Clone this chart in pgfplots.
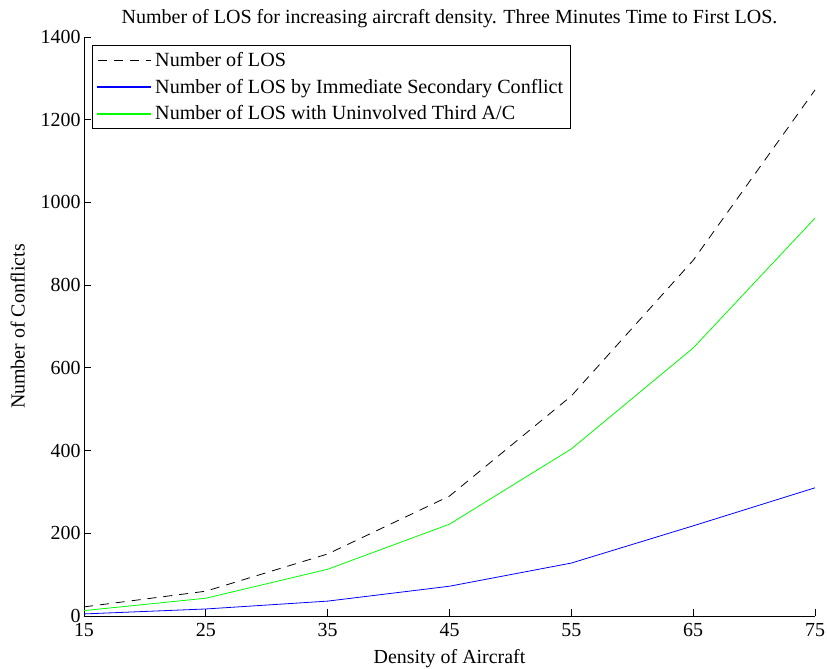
\documentclass[border=0pt]{standalone}
\usepackage{pgfplots}
\pgfplotsset{compat=1.18}
\usepackage{fontspec}
\setmainfont{Liberation Serif}
\definecolor{mblue}{rgb}{0,0,1}
\definecolor{mgreen}{rgb}{0,1,0}
\begin{document}
\begin{tikzpicture}
\begin{axis}[
  scale only axis, width=731bp, height=579bp,
  xmin=15, xmax=75, ymin=0, ymax=1400,
  axis lines*=left,
  xtick={15,25,...,75}, ytick={0,200,...,1400},
  tick align=inside, major tick length=7bp,
  tick style={black, line width=0.8pt},
  axis line style={line width=0.8pt},
  /pgf/number format/assume math mode=true,
  /pgf/number format/1000 sep={},
  ticklabel style={font=\fontsize{20}{24}\selectfont},
  xticklabel style={yshift=-4bp},
  label style={font=\fontsize{20}{24}\selectfont},
  title style={font=\fontsize{20.1}{24}\selectfont, yshift=0bp},
  title={Number of LOS for increasing aircraft density. Three Minutes Time to First LOS.},
  xlabel={Density of Aircraft},
  ylabel={Number of Conflicts},
  xlabel style={yshift=-6bp},
  ylabel style={yshift=9bp},
  legend style={at={(axis description cs:0.011,0.986)}, anchor=north west,
    font=\fontsize{20.2}{24}\selectfont, line width=0.8pt,
    row sep=7bp, inner xsep=5bp, inner ysep=5bp},
  legend cell align=left,
  clip=false,
]
\addlegendimage{legend image code/.code={\draw[black, dash pattern=on 9bp off 7bp, line width=0.8pt] (3bp,0bp) -- (56bp,0bp); \path (58bp,0bp);}}
\addlegendentry{Number of LOS}
\addlegendimage{legend image code/.code={\fill[mblue] (3bp,-0.4bp) rectangle (56bp,0.4bp); \path (58bp,0bp);}}
\addlegendentry{Number of LOS by Immediate Secondary Conflict}
\addlegendimage{legend image code/.code={\fill[mgreen] (3bp,-0.4bp) rectangle (56bp,0.4bp); \path (58bp,0bp);}}
\addlegendentry{Number of LOS with Uninvolved Third A/C}
\addplot[forget plot, black, dash pattern=on 9bp off 7bp, line width=0.8pt] coordinates {
(15,22) (25,60) (35,150) (45,290) (55,532) (65,860) (75,1272)};
\addplot[forget plot, mblue, line width=0.8pt] coordinates {
(15,5) (25,17) (35,36) (45,72) (55,128) (65,218) (75,310)};
\addplot[forget plot, mgreen, line width=0.8pt] coordinates {
(15,13) (25,43) (35,113) (45,222) (55,404) (65,648) (75,962)};
\coordinate (ll) at (rel axis cs:0,0);
\coordinate (ur) at (rel axis cs:1,1);
\end{axis}
\pgfresetboundingbox
\path ([shift={(-84bp,-53bp)}]ll) rectangle ([shift={(12bp,37bp)}]ur);
\end{tikzpicture}
\end{document}
